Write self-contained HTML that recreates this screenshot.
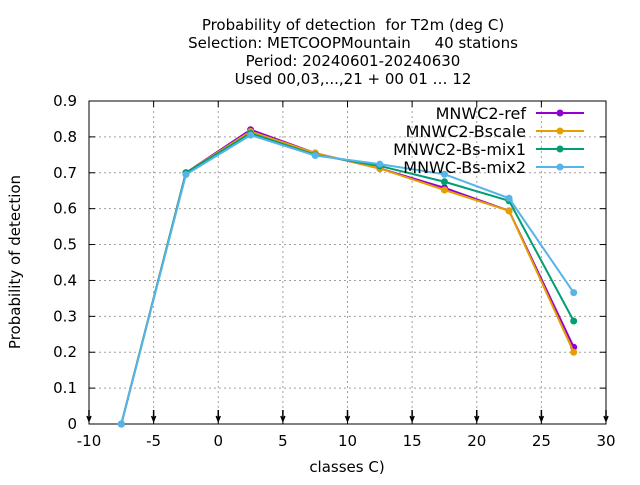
<!DOCTYPE html>
<html><head><meta charset="utf-8"><style>
body{margin:0;background:#fff;}
svg text{font-family:"DejaVu Sans","Liberation Sans",sans-serif;fill:#000;}
</style></head><body>
<svg id="chart" width="640" height="480" viewBox="0 0 640 480" xmlns="http://www.w3.org/2000/svg">
<g font-size="15" text-anchor="middle">
<text x="353" y="30" xml:space="preserve">Probability of detection  for T2m (deg C)</text>
<text x="353" y="48" xml:space="preserve">Selection: METCOOPMountain     40 stations</text>
<text x="353" y="66">Period: 20240601-20240630</text>
<text x="353" y="84">Used 00,03,...,21 + 00 01 … 12</text>
</g>
<g id="grid"></g>
<rect x="89" y="101" width="517" height="323" fill="none" stroke="#000" stroke-width="1"/>
<g id="axes" font-size="15"></g>
<text x="20" y="262" font-size="15" text-anchor="middle" transform="rotate(-90 20 262)">Probability of detection</text>
<text x="347" y="472" font-size="15" text-anchor="middle">classes C)</text>
<g id="series"></g>
<g id="legend" font-size="16"></g>
</svg>
<script>
const categories=[-7.5,-2.5,2.5,7.5,12.5,17.5,22.5,27.5];
const refVals=[0,0.70,0.82,0.755,0.712,0.658,0.594,0.214];
const bscaleVals=[0,0.70,0.815,0.755,0.712,0.652,0.594,0.20];
const mix1Vals=[0,0.70,0.81,0.75,0.719,0.675,0.622,0.287];
const mix2Vals=[0,0.695,0.805,0.748,0.724,0.696,0.629,0.366];
const seriesNames=["MNWC2-ref","MNWC2-Bscale","MNWC2-Bs-mix1","MNWC-Bs-mix2"];
const xTicks=[-10,-5,0,5,10,15,20,25,30];
const yTicks=[0,0.1,0.2,0.3,0.4,0.5,0.6,0.7,0.8,0.9];
const colors=["#9400d3","#e69f00","#009e73","#56b4e9"];
const NS="http://www.w3.org/2000/svg";
const X0=89,X1=606,Y0=424,Y1=101;
const xs=v=>X0+(v+10)/40*(X1-X0);
const ys=v=>Y0-v/0.9*(Y0-Y1);
function mk(t,a,p){const e=document.createElementNS(NS,t);for(const k in a)e.setAttribute(k,a[k]);p.appendChild(e);return e;}
const grid=document.getElementById('grid'),axes=document.getElementById('axes');
xTicks.forEach(t=>{const x=xs(t);
 if(t>-10&&t<30){const l=mk('line',{x1:x,x2:x,y1:Y1,y2:Y0,stroke:'#a0a0a0','stroke-dasharray':'2,3'},grid);}
 mk('line',{x1:x,x2:x,y1:Y0,y2:Y0-6,stroke:'#000'},axes);mk('line',{x1:x,x2:x,y1:Y1,y2:Y1+6,stroke:'#000'},axes);
 const a=mk('path',{d:`M${x},${410} L${x},${420} M${x-2},${416} L${x},${421} L${x+2},${416}`,stroke:'#000',fill:'none','stroke-width':1.5},axes);
 
 const tx=mk('text',{x:x,y:446,'text-anchor':'middle'},axes);tx.textContent=t;
 });
yTicks.forEach(t=>{const y=ys(t);
 if(t>0&&t<0.9){const l=mk('line',{x1:X0,x2:X1,y1:y,y2:y,stroke:'#a0a0a0','stroke-dasharray':'2,3'},grid);}
 mk('line',{x1:X0,x2:X0+6,y1:y,y2:y,stroke:'#000'},axes);mk('line',{x1:X1,x2:X1-6,y1:y,y2:y,stroke:'#000'},axes);
 const tx=mk('text',{x:77,y:y+5,'text-anchor':'end'},axes);tx.textContent=(t===0?'0':t.toFixed(1));
 });
const data=[refVals,bscaleVals,mix1Vals,mix2Vals];
const sg=document.getElementById('series'),lg=document.getElementById('legend');
data.forEach((vals,i)=>{
 const g=mk('g',{},sg);
 const pts=vals.map((v,j)=>xs(categories[j])+','+ys(v)).join(' ');
 const pl=mk('polyline',{points:pts,fill:'none',stroke:colors[i],'stroke-width':2},g);
 
 vals.forEach((v,j)=>{const c=mk('circle',{cx:xs(categories[j]),cy:ys(v),r:3.5,fill:colors[i]},g);
  });
 const ly=113+i*18;
 const le=mk('g',{},lg);
 const tx=mk('text',{x:526,y:ly+6,'text-anchor':'end'},le);tx.textContent=seriesNames[i];
 mk('line',{x1:536,x2:584,y1:ly,y2:ly,stroke:colors[i],'stroke-width':2},le);
 mk('circle',{cx:560,cy:ly,r:3.5,fill:colors[i]},le);
});
</script>
</body></html>
